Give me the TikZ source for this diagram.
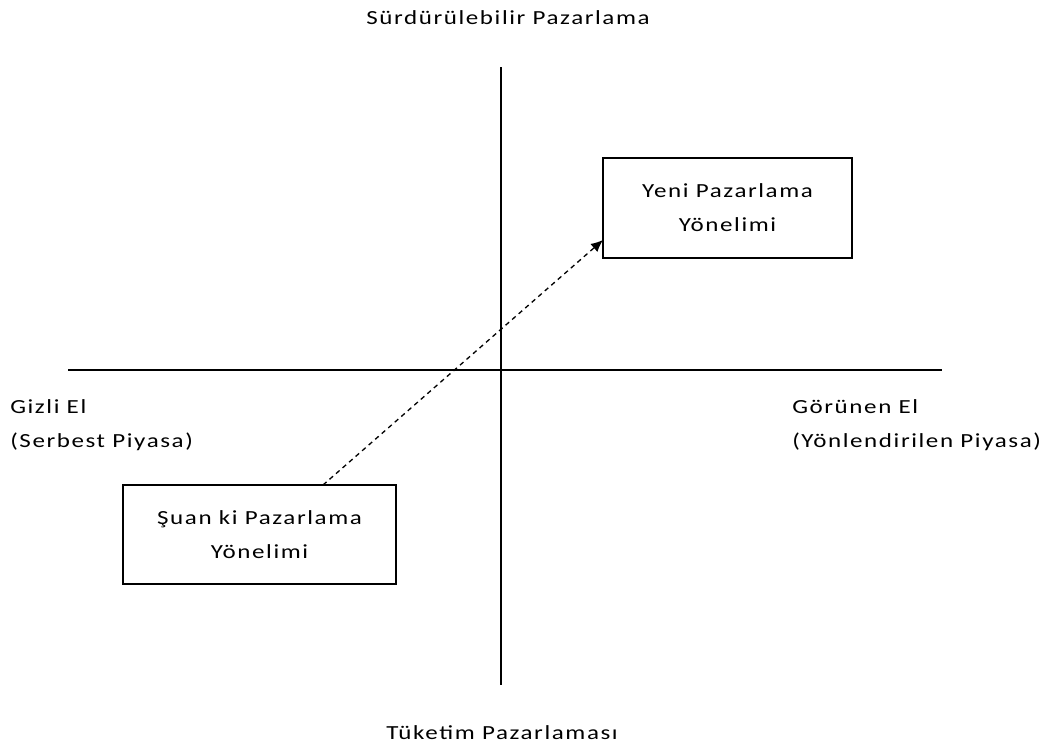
\documentclass[tikz,border=0pt]{standalone}
\usepackage{fontspec}
\setmainfont{Carlito}[FakeStretch=1.25,LetterSpace=8]
\usetikzlibrary{arrows.meta}
\begin{document}
\begin{tikzpicture}[x=0.75pt,y=-0.75pt,
  axis/.style={draw=black,line width=0.9pt},
  orientbox/.style={draw=black,line width=0.9pt,minimum width=249*0.75pt,minimum height=100*0.75pt,inner sep=0pt},
  lbl/.style={font=\fontsize{15}{25.5}\selectfont,text=black,inner sep=0pt},
  movearrow/.style={draw=black,line width=1pt,dash pattern=on 3.5pt off 3pt,-{Latex[length=9pt,width=8pt]}}]
  \useasboundingbox (0,0) rectangle (1064,751);
  % axes
  \coordinate (vtop) at (501,67);
  \coordinate (vbot) at (501,685);
  \coordinate (hleft) at (68,370);
  \coordinate (hright) at (942,370);
  \draw[axis] (vtop) -- (vbot);
  \draw[axis] (hleft) -- (hright);
  % axis labels
  \node[lbl] (top) at (508,18) {Sürdürülebilir Pazarlama};
  \node[lbl] (bottom) at (502,733) {Tüketim Pazarlaması};
  \node[lbl,anchor=west,align=left] (left) at (10,425) {Gizli El\\(Serbest Piyasa)};
  \node[lbl,anchor=west,align=left] (right) at (792,425) {Görünen El\\(Yönlendirilen Piyasa)};
  % orientation boxes
  \node[orientbox] (newbox) at (727.5,208) {};
  \node[lbl,align=center] (newtxt) at (727.5,208) {Yeni Pazarlama\\Yönelimi};
  \node[orientbox,minimum width=273*0.75pt,minimum height=99*0.75pt] (curbox) at (259.5,534.5) {};
  \node[lbl,align=center] (curtxt) at (259.5,534.5) {Şuan ki Pazarlama\\Yönelimi};
  % shift from current to new orientation
  \coordinate (start) at (323,485);
  \coordinate (finish) at (603,240);
  \draw[movearrow] (start) -- (finish);
\end{tikzpicture}
\end{document}
